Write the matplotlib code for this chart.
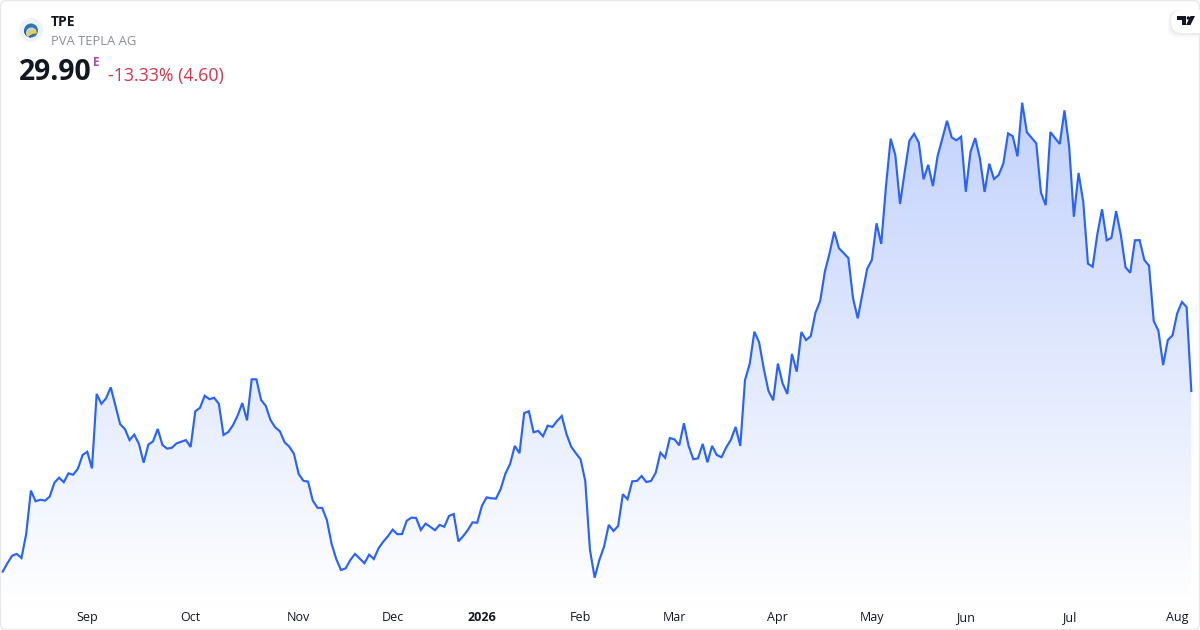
import numpy as np
import matplotlib
matplotlib.use("Agg")
import matplotlib.pyplot as plt
from matplotlib.patches import Circle, FancyBboxPatch, Polygon, Wedge
from matplotlib.colors import LinearSegmentedColormap

plt.rcParams['font.family'] = ['Open Sans', 'DejaVu Sans']

ticker = "TPE"
company = "PVA TEPLA AG"
last_price = "29.90"
change_text = "-13.33% (4.60)"

prices = [
    20.00, 20.46, 20.87, 20.97, 20.75, 22.06, 24.44, 23.86, 23.94, 23.89, 24.11, 24.87, 25.15, 24.90, 25.39, 25.31,
    25.64, 26.39, 26.57, 25.66, 29.74, 29.20, 29.50, 30.10, 29.08, 28.08, 27.82, 27.21, 27.51, 27.00, 25.97, 26.96,
    27.14, 27.82, 26.94, 26.74, 26.79, 27.03, 27.12, 27.21, 26.83, 28.79, 28.98, 29.64, 29.45, 29.53, 29.20, 27.49,
    27.65, 28.02, 28.55, 29.24, 28.29, 30.54, 30.54, 29.41, 29.08, 28.31, 27.91, 27.69, 27.09, 26.85, 26.45, 25.35,
    24.98, 24.93, 23.89, 23.50, 23.49, 22.83, 21.52, 20.69, 20.09, 20.18, 20.64, 20.97, 20.71, 20.46, 20.93, 20.69,
    21.28, 21.64, 21.94, 22.30, 22.05, 22.06, 22.79, 22.96, 22.94, 22.28, 22.63, 22.46, 22.27, 22.56, 22.46, 23.05,
    23.16, 21.66, 21.94, 22.28, 22.70, 22.68, 23.60, 24.07, 24.02, 24.00, 24.53, 25.37, 25.90, 26.89, 26.49, 28.69,
    28.79, 27.64, 27.71, 27.42, 28.00, 27.93, 28.26, 28.53, 27.54, 26.85, 26.49, 26.16, 24.97, 21.19, 19.67, 20.64,
    21.37, 22.56, 22.23, 22.50, 24.24, 23.97, 24.95, 24.97, 25.24, 24.91, 24.97, 25.42, 26.52, 26.24, 27.32, 27.25,
    26.92, 28.13, 26.89, 26.16, 26.21, 27.00, 25.99, 26.89, 26.39, 26.27, 26.81, 27.23, 27.93, 26.89, 30.50, 31.38,
    33.15, 32.57, 31.12, 29.90, 29.39, 31.40, 30.32, 29.74, 31.93, 30.96, 33.13, 32.69, 32.91, 34.19, 34.83, 36.44,
    37.45, 38.63, 37.72, 37.46, 37.19, 34.98, 33.88, 35.25, 36.59, 37.08, 39.09, 37.96, 41.10, 43.73, 42.83, 40.15,
    41.92, 43.62, 44.00, 43.51, 41.50, 42.30, 41.13, 42.78, 43.73, 44.71, 43.80, 43.64, 43.84, 40.82, 43.01, 43.76,
    42.65, 40.81, 42.36, 41.52, 41.74, 42.38, 44.02, 43.86, 42.76, 45.70, 44.08, 43.78, 43.47, 40.77, 40.09, 44.09,
    43.76, 43.44, 45.28, 43.29, 39.45, 41.85, 40.27, 36.88, 36.71, 38.50, 39.86, 38.16, 38.30, 39.76, 38.45, 36.68,
    36.38, 38.16, 38.17, 37.08, 36.77, 33.74, 33.20, 31.32, 32.69, 32.95, 34.16, 34.78, 34.50, 29.90,
]
month_labels = ["Sep", "Oct", "Nov", "Dec", "2026", "Feb", "Mar", "Apr", "May", "Jun", "Jul", "Aug"]
month_sessions = [18, 40, 63, 83, 102, 123, 143, 165, 185, 205, 227, 250]

sessions = np.arange(len(prices))
LINE = "#2962FF"

fig = plt.figure(figsize=(12, 6.3), dpi=100, facecolor="white")
ax = fig.add_axes([0, 0, 1, 1])
ax.set_xlim(-0.575, 254.85)
ax.set_ylim(16.80, 51.33)
ax.set_axis_off()

# gradient area under the line
ymax_grad, ymin_grad = 45.7, 18.0
cmap = LinearSegmentedColormap.from_list("g", ["#FFFFFF", "#C3D2FD"])
grad = np.linspace(1, 0, 256).reshape(-1, 1)
x0, x1 = sessions[0], sessions[-1]
im = ax.imshow(grad, extent=(x0, x1, ymin_grad, ymax_grad), aspect="auto", cmap=cmap,
               vmin=0, vmax=1, origin="upper", zorder=1)
poly = Polygon(list(zip(sessions, prices)) + [(x1, ymin_grad), (x0, ymin_grad)],
               closed=True, transform=ax.transData, fc="none", ec="none")
ax.add_patch(poly)
im.set_clip_path(poly)
ax.set_xlim(-0.575, 254.85)
ax.set_ylim(16.80, 51.33)

ax.plot(sessions, prices, color=LINE, lw=1.55, solid_joinstyle="miter", zorder=3)

# month labels along the bottom, placed by session
for s, lab in zip(month_sessions, month_labels):
    ax.annotate(lab, xy=(s, 0), xycoords=("data", "figure pixels"), xytext=(0, 12.5),
                textcoords="offset pixels", ha="center", va="center", fontsize=9,
                color="#131722", fontweight="bold" if lab == "2026" else "normal")

# overlay in pixel coordinates for the page furniture
ov = fig.add_axes([0, 0, 1, 1], facecolor="none")
ov.set_xlim(0, 1200)
ov.set_ylim(630, 0)
ov.set_axis_off()

ov.add_patch(FancyBboxPatch((0.5, 0.5), 1199, 629, boxstyle="round,pad=0,rounding_size=6",
                            fc="none", ec="#E6E8EC", lw=1.0, zorder=6))

# company logo
ov.add_patch(Circle((31, 30), 12, fc="#EEF2FA", ec="none", zorder=7))
ov.add_patch(Circle((31, 30.5), 7, fc="#2F77AE", ec="none", zorder=8))
ov.add_patch(Wedge((31, 30.5), 7, 90, 180, fc="#1F5E96", ec="none", zorder=8))
ov.add_patch(Wedge((31.5, 33), 5.5, 130, 340, fc="#BFD7E2", ec="none", zorder=9))
ov.add_patch(Wedge((32.5, 34), 4.5, 150, 350, fc="#F2CB57", ec="none", zorder=10))

ov.text(51, 22, ticker, fontsize=10, fontweight="bold", color="#131722", ha="left", va="center", zorder=7)
ov.text(51, 41.5, company, fontsize=9.35, color="#8A8E99", ha="left", va="center", zorder=7)
ov.text(18.5, 73, last_price, fontsize=20.4, fontweight="bold", color="#131722", ha="left", va="center", zorder=7)
ov.text(93, 62.5, "E", fontsize=8.5, fontweight="bold", color="#AB47BC", ha="left", va="center", zorder=7)
ov.text(108, 76, change_text, fontsize=12.75, color="#D5334A", ha="left", va="center", zorder=7)

# TradingView badge
for off, col in ((5, "#F4F4F6"), (3, "#EEEEF1"), (1.5, "#E6E6EA")):
    ov.add_patch(FancyBboxPatch((1171 - off * 0.6, 10), 40 + off, 23 + off * 0.9,
                                boxstyle="round,pad=0,rounding_size=11", fc=col, ec="none",
                                alpha=0.55, zorder=7))
ov.add_patch(FancyBboxPatch((1171, 10), 40, 23, boxstyle="round,pad=0,rounding_size=11",
                            fc="white", ec="none", zorder=8))
ov.add_patch(Polygon([(1177, 16), (1186, 16), (1186, 25), (1181.5, 25), (1181.5, 19.5), (1177, 19.5)],
                     closed=True, fc="#131722", ec="none", zorder=9))
ov.add_patch(Circle((1188.3, 18), 1.7, fc="#131722", ec="none", zorder=9))
ov.add_patch(Polygon([(1190.5, 16), (1195, 16), (1190.5, 25), (1186, 25)],
                     closed=True, fc="#131722", ec="none", zorder=9))

fig.savefig("out.png", dpi=100, facecolor="white")
